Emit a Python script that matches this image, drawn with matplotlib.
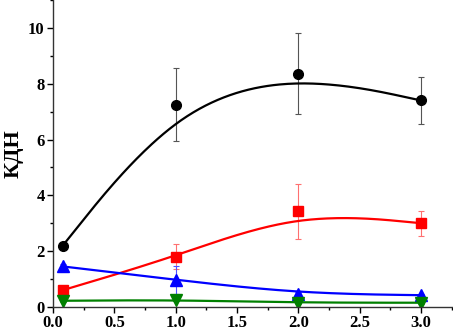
import numpy as np
import matplotlib.pyplot as plt
from matplotlib.ticker import MultipleLocator

x = np.array([0.08, 1.0, 2.0, 3.0])

black_y = np.array([2.2, 7.25, 8.35, 7.4])
black_err = np.array([0.0, 1.3, 1.45, 0.85])
red_y = np.array([0.6, 1.8, 3.42, 3.0])
red_err = np.array([0.0, 0.45, 1.0, 0.45])
blue_y = np.array([1.45, 0.97, 0.48, 0.42])
blue_err = np.array([0.08, 0.5, 0.05, 0.05])
green_y = np.array([0.22, 0.25, 0.15, 0.15])
green_err = np.array([0.03, 0.03, 0.03, 0.03])

plt.rcParams['font.family'] = ['Liberation Serif', 'DejaVu Serif']
plt.rcParams['font.weight'] = 'bold'


def bspline3(px, py, n=60):
    # uniform cubic B-spline, end points tripled so the curve starts/ends on them
    qx = np.concatenate([[px[0]] * 2, px, [px[-1]] * 2])
    qy = np.concatenate([[py[0]] * 2, py, [py[-1]] * 2])
    t = np.linspace(0, 1, n)
    b0 = (1 - t) ** 3 / 6
    b1 = (3 * t ** 3 - 6 * t ** 2 + 4) / 6
    b2 = (-3 * t ** 3 + 3 * t ** 2 + 3 * t + 1) / 6
    b3 = t ** 3 / 6
    outx, outy = [], []
    for i in range(len(qx) - 3):
        outx.append(b0 * qx[i] + b1 * qx[i + 1] + b2 * qx[i + 2] + b3 * qx[i + 3])
        outy.append(b0 * qy[i] + b1 * qy[i + 1] + b2 * qy[i + 2] + b3 * qy[i + 3])
    return np.concatenate(outx), np.concatenate(outy)


fig = plt.figure(figsize=(4.53, 3.30), dpi=100)
ax = fig.add_axes([0.117, 0.07, 0.88, 0.93])

series = [
    (black_y, black_err, 'black', 'o', '#555555', 7),
    (red_y, red_err, 'red', 's', '#ff7070', 7),
    (blue_y, blue_err, 'blue', '^', '#5050ff', 8),
    (green_y, green_err, 'green', 'v', '#40a040', 8),
]
for y, err, col, mk, ecol, ms in series:
    ax.errorbar(x, y, yerr=err, fmt='none', ecolor=ecol, elinewidth=0.8, capsize=2.5, capthick=0.8)
    cx, cy = bspline3(x, y)
    ax.plot(cx, cy, color=col, lw=1.6)
    ax.plot(x, y, ls='none', marker=mk, color=col, markersize=ms)

ax.set_xlim(0, 3.25)
ax.set_ylim(0, 11)
ax.xaxis.set_major_locator(MultipleLocator(0.5))
ax.xaxis.set_minor_locator(MultipleLocator(0.25))
ax.yaxis.set_major_locator(MultipleLocator(2))
ax.yaxis.set_minor_locator(MultipleLocator(1))
ax.spines['top'].set_visible(False)
ax.spines['right'].set_visible(False)
for s in ['left', 'bottom']:
    ax.spines[s].set_linewidth(1.0)
    ax.spines[s].set_color('#333333')
ax.tick_params(which='major', direction='out', length=4, width=1, labelsize=12, pad=2)
ax.tick_params(which='minor', direction='out', length=2.5, width=1)
ax.set_ylabel('КДН', fontsize=16, fontweight='bold', labelpad=3)

fig.savefig('out.png', dpi=100)
